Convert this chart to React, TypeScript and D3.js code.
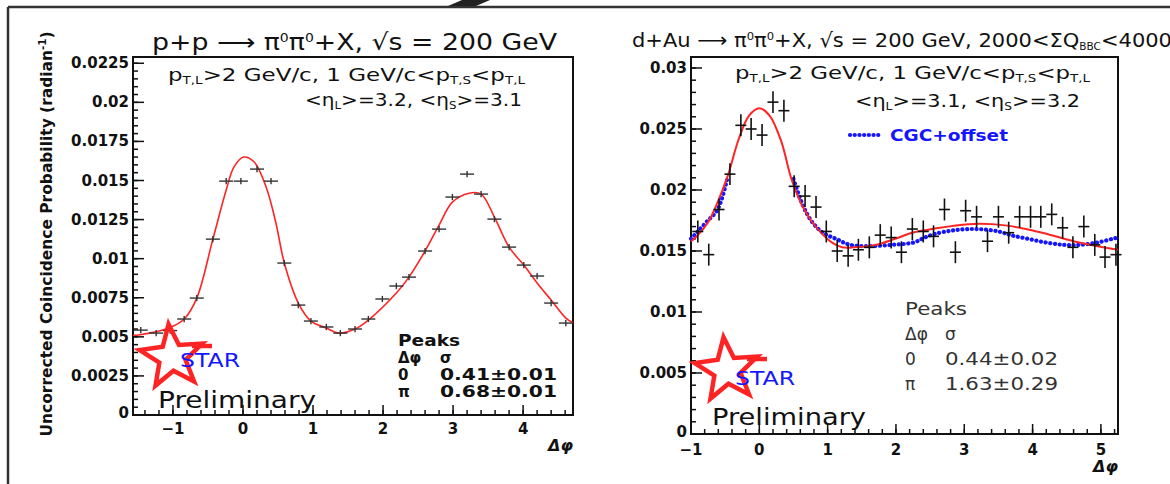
import React from "react";
import * as d3 from "d3";

// ---------- DATA ----------
// Left panel: p+p
const ppPhi = [-1.46, -1.24, -1.04, -0.84, -0.66, -0.43, -0.24, -0.03, 0.2, 0.4, 0.59, 0.79, 0.97, 1.19, 1.39, 1.6, 1.79, 1.99, 2.19, 2.37, 2.6, 2.8, 2.99, 3.2, 3.4, 3.59, 3.8, 4.01, 4.2, 4.4, 4.61];
const ppVal = [0.00543, 0.00524, 0.0054, 0.00614, 0.00748, 0.01125, 0.01496, 0.01496, 0.01573, 0.01496, 0.00972, 0.00703, 0.00601, 0.00563, 0.00524, 0.0055, 0.00614, 0.00742, 0.00825, 0.00882, 0.01049, 0.01189, 0.01394, 0.01541, 0.01413, 0.01253, 0.01074, 0.00959, 0.00889, 0.00716, 0.00588];
const ppErr = 0.0002;
const ppFitPhi = [-1.571, -1.49, -1.06, -0.84, -0.66, -0.43, -0.24, -0.13, 0.01, 0.16, 0.33, 0.47, 0.59, 0.79, 0.97, 1.19, 1.37, 1.6, 1.79, 2.19, 2.37, 2.6, 2.8, 2.99, 3.23, 3.4, 3.59, 3.8, 4.01, 4.2, 4.4, 4.61, 4.712];
const ppFitVal = [0.0051, 0.00512, 0.00556, 0.00614, 0.00748, 0.01125, 0.01439, 0.01586, 0.0165, 0.01618, 0.01458, 0.01228, 0.00972, 0.00716, 0.00601, 0.00556, 0.00524, 0.0055, 0.00607, 0.0078, 0.00882, 0.01049, 0.01215, 0.01362, 0.01419, 0.01413, 0.01266, 0.01074, 0.00959, 0.00844, 0.00735, 0.0062, 0.0059];

// Right panel: d+Au
const daPhi = [-0.9, -0.74, -0.59, -0.43, -0.27, -0.12, 0.04, 0.2, 0.36, 0.51, 0.67, 0.83, 0.98, 1.14, 1.3, 1.45, 1.61, 1.77, 1.93, 2.08, 2.24, 2.4, 2.55, 2.71, 2.87, 3.02, 3.18, 3.34, 3.5, 3.65, 3.81, 3.97, 4.12, 4.28, 4.44, 4.59, 4.75, 4.91, 5.06, 5.22];
const daVal = [0.0166, 0.0147, 0.0184, 0.0213, 0.0253, 0.025, 0.0245, 0.0272, 0.0265, 0.0203, 0.0195, 0.0186, 0.0166, 0.015, 0.0146, 0.0151, 0.0153, 0.0163, 0.0161, 0.0149, 0.0168, 0.0166, 0.0162, 0.0184, 0.0149, 0.0183, 0.0178, 0.0158, 0.0178, 0.0165, 0.0178, 0.0178, 0.0178, 0.018, 0.0169, 0.0153, 0.017, 0.0155, 0.0145, 0.0147];
const daErr = 0.0009;
const daFitPhi = [-1.0, -0.93, -0.75, -0.61, -0.46, -0.3, -0.15, 0.0, 0.15, 0.32, 0.47, 0.62, 0.77, 0.92, 1.06, 1.21, 1.4, 1.7, 1.99, 2.24, 2.53, 3.06, 3.6, 4.14, 4.68, 5.25];
const daFitVal = [0.0158, 0.01612, 0.01736, 0.019, 0.0212, 0.0242, 0.0261, 0.0267, 0.0261, 0.024, 0.0209, 0.0188, 0.0174, 0.0164, 0.0157, 0.0153, 0.0153, 0.0155, 0.016, 0.0165, 0.0168, 0.0172, 0.0171, 0.0165, 0.0157, 0.0151];
const cgcPhiA = [-1.0, -0.9, -0.77, -0.61, -0.47];
const cgcValA = [0.016, 0.0166, 0.0174, 0.0184, 0.0209];
const cgcPhiB = [0.5, 0.64, 0.77, 0.93, 1.12, 1.33, 1.61, 1.93, 2.26, 2.42, 2.57, 2.85, 3.18, 3.5, 3.68, 3.93, 4.19, 4.46, 4.68, 4.95, 5.17, 5.25];
const cgcValB = [0.0209, 0.0187, 0.0174, 0.0165, 0.016, 0.0155, 0.0154, 0.0155, 0.0157, 0.0161, 0.0164, 0.0167, 0.0168, 0.0166, 0.0163, 0.016, 0.0157, 0.0155, 0.0155, 0.0157, 0.016, 0.0161];

const leftYTicks = [0, 0.0025, 0.005, 0.0075, 0.01, 0.0125, 0.015, 0.0175, 0.02, 0.0225];
const leftYLabels = ["0", "0.0025", "0.005", "0.0075", "0.01", "0.0125", "0.015", "0.0175", "0.02", "0.0225"];
const leftXTicks = [-1, 0, 1, 2, 3, 4];
const rightYTicks = [0, 0.005, 0.01, 0.015, 0.02, 0.025, 0.03];
const rightYLabels = ["0", "0.005", "0.01", "0.015", "0.02", "0.025", "0.03"];
const rightXTicks = [-1, 0, 1, 2, 3, 4, 5];

const FONT = "'DejaVu Sans', 'Liberation Sans', sans-serif";
const RED = "#ff2424";
const BLUE = "#1515ff";

function starPoints(cx: number, cy: number, R: number, rot: number) {
  const pts: string[] = [];
  for (let i = 0; i < 10; i++) {
    const r = i % 2 === 0 ? R : R * 0.42;
    const a = (-90 + rot + i * 36) * Math.PI / 180;
    pts.push(`${cx + r * Math.cos(a)},${cy + r * Math.sin(a)}`);
  }
  return pts.join(" ");
}

function StarLogo({ cx, cy, tx, ty }: { cx: number; cy: number; tx: number; ty: number }) {
  return (
    <g>
      <polygon points={starPoints(cx, cy, 33, -6)} fill="none" stroke={RED} strokeWidth={4.5} strokeLinejoin="miter" />
      <line x1={cx + 20} y1={cy - 11} x2={cx + 40} y2={cy - 11} stroke={RED} strokeWidth={4.5} />
      <text x={tx} y={ty} fill={BLUE} fontFamily={FONT} fontSize={19} textLength={60} lengthAdjust="spacingAndGlyphs">STAR</text>
    </g>
  );
}

type AxisProps = {
  x: d3.ScaleLinear<number, number>;
  y: d3.ScaleLinear<number, number>;
  yTicks: number[];
  yLabels: string[];
  yMinor: number;
  xTicks: number[];
  xMinor: number;
  xLabelY: number;
};

function Frame({ x, y, yTicks, yLabels, yMinor, xTicks, xMinor, xLabelY }: AxisProps) {
  const [x0, x1] = x.range();
  const [y0, y1] = y.range();
  const [dx0, dx1] = x.domain();
  const [, dy1] = y.domain();
  const minorX: number[] = [];
  for (let v = Math.ceil(dx0 / xMinor) * xMinor; v <= dx1 + 1e-9; v += xMinor) minorX.push(v);
  const minorY: number[] = [];
  for (let v = 0; v <= dy1 + 1e-12; v += yMinor) minorY.push(v);
  return (
    <g>
      <rect x={x0} y={y1} width={x1 - x0} height={y0 - y1} fill="none" stroke="#111" strokeWidth={2} />
      {minorX.map((v, i) => (
        <line key={"mx" + i} x1={x(v)} x2={x(v)} y1={y0} y2={y0 - 5} stroke="#111" strokeWidth={1.5} />
      ))}
      {xTicks.map((v) => (
        <g key={"x" + v}>
          <line x1={x(v)} x2={x(v)} y1={y0} y2={y0 - 10} stroke="#111" strokeWidth={1.5} />
          <text x={x(v)} y={xLabelY} textAnchor="middle" fontFamily={FONT} fontWeight="bold" fontSize={15} fill="#111">
            {v < 0 ? "\u2212" + Math.abs(v) : String(v)}
          </text>
        </g>
      ))}
      {minorY.map((v, i) => (
        <line key={"my" + i} x1={x0} x2={x0 + 5} y1={y(v)} y2={y(v)} stroke="#111" strokeWidth={1.5} />
      ))}
      {yTicks.map((v, i) => (
        <g key={"y" + i}>
          <line x1={x0} x2={x0 + 11} y1={y(v)} y2={y(v)} stroke="#111" strokeWidth={1.5} />
          <text x={x0 - 4} y={y(v) + (i === 0 ? 3 : 5)} textAnchor="end" fontFamily={FONT} fontWeight="bold" fontSize={15} fill="#111">
            {yLabels[i]}
          </text>
        </g>
      ))}
    </g>
  );
}

function Crosses({ x, y, phi, val, err, hw, color, sw }: any) {
  return (
    <g>
      {phi.map((p: number, i: number) => (
        <g key={i} stroke={color} strokeWidth={sw}>
          <line x1={x(p) - hw} x2={x(p) + hw} y1={y(val[i])} y2={y(val[i])} />
          <line x1={x(p)} x2={x(p)} y1={y(val[i] - err)} y2={y(val[i] + err)} />
        </g>
      ))}
    </g>
  );
}

const LA = "spacingAndGlyphs";

export default function App() {
  const xL = d3.scaleLinear().domain([-Math.PI / 2, 1.5 * Math.PI]).range([133, 573]);
  const yL = d3.scaleLinear().domain([0, 0.0229]).range([415, 57]);
  const xR = d3.scaleLinear().domain([-1, 5.25]).range([691, 1118]);
  const yR = d3.scaleLinear().domain([0, 0.0309]).range([434, 57]);

  const lineL = d3.line<number>().x((d, i) => xL(ppFitPhi[i])).y((d) => yL(d)).curve(d3.curveCatmullRom);
  const lineR = d3.line<number>().x((d, i) => xR(daFitPhi[i])).y((d) => yR(d)).curve(d3.curveCatmullRom);
  const cgcA = d3.line<number>().x((d, i) => xR(cgcPhiA[i])).y((d) => yR(d)).curve(d3.curveCatmullRom);
  const cgcB = d3.line<number>().x((d, i) => xR(cgcPhiB[i])).y((d) => yR(d)).curve(d3.curveCatmullRom);

  return (
    <svg width={1170} height={484} style={{ position: "absolute", left: 0, top: 0, background: "#fff" }}>
      <rect x={0} y={0} width={1170} height={484} fill="#fff" />
      {/* outer border */}
      <line x1={8} y1={7} x2={1170} y2={7} stroke="#333" strokeWidth={2.5} />
      <line x1={8} y1={7} x2={8} y2={484} stroke="#333" strokeWidth={2.5} />
      <polygon points="448,6 462,0 490,0 476,6" fill="#222" />

      {/* ---------- LEFT PANEL ---------- */}
      <text x={152} y={50} fontFamily={FONT} fontSize={23} fill="#111" textLength={405} lengthAdjust={LA}>
        p+p {"\u27F6"} {"\u03C0"}<tspan dy={-8} fontSize={12}>0</tspan><tspan dy={8}>{"\u03C0"}</tspan><tspan dy={-8} fontSize={12}>0</tspan><tspan dy={8}>+X, {"\u221A"}s = 200 GeV</tspan>
      </text>
      <Frame x={xL} y={yL} yTicks={leftYTicks} yLabels={leftYLabels} yMinor={0.0005} xTicks={leftXTicks} xMinor={0.2} xLabelY={434} />
      <text x={168} y={81} fontFamily={FONT} fontSize={17} fill="#111" textLength={357} lengthAdjust={LA}>
        p<tspan dy={3} fontSize={10}>T,L</tspan><tspan dy={-3}>&gt;2 GeV/c,  1 GeV/c&lt;p</tspan><tspan dy={3} fontSize={10}>T,S</tspan><tspan dy={-3}>&lt;p</tspan><tspan dy={3} fontSize={10}>T,L</tspan>
      </text>
      <text x={305} y={106} fontFamily={FONT} fontSize={17} fill="#111" textLength={217} lengthAdjust={LA}>
        &lt;{"\u03B7"}<tspan dy={3} fontSize={10}>L</tspan><tspan dy={-3}>&gt;=3.2, &lt;{"\u03B7"}</tspan><tspan dy={3} fontSize={10}>S</tspan><tspan dy={-3}>&gt;=3.1</tspan>
      </text>
      <path d={lineL(ppFitVal) || ""} fill="none" stroke={RED} strokeWidth={1.6} />
      <Crosses x={xL} y={yL} phi={ppPhi} val={ppVal} err={ppErr} hw={7} color="#333" sw={1.4} />
      <text transform="translate(52,234) rotate(-90)" textAnchor="middle" fontFamily={FONT} fontWeight="bold" fontSize={15} fill="#111" textLength={405} lengthAdjust={LA}>
        Uncorrected Coincidence Probability (radian<tspan dy={-6} fontSize={10}>-1</tspan><tspan dy={6}>)</tspan>
      </text>
      <text x={573} y={451} textAnchor="end" fontFamily={FONT} fontWeight="bold" fontStyle="italic" fontSize={16} fill="#111">{"\u0394\u03C6"}</text>
      <StarLogo cx={172} cy={357} tx={180} ty={367} />
      <text x={158} y={408} fontFamily={FONT} fontSize={23} fill="#111" textLength={158} lengthAdjust={LA}>Preliminary</text>
      <g fontFamily={FONT} fontSize={15} fill="#111" fontWeight="bold">
        <text x={398} y={346} fontSize={16} textLength={62} lengthAdjust={LA}>Peaks</text>
        <text x={398} y={363}>{"\u0394\u03C6"}</text>
        <text x={440} y={363}>{"\u03C3"}</text>
        <text x={398} y={380}>0</text>
        <text x={440} y={380} textLength={117} lengthAdjust={LA}>0.41{"\u00B1"}0.01</text>
        <text x={398} y={397}>{"\u03C0"}</text>
        <text x={440} y={397} textLength={117} lengthAdjust={LA}>0.68{"\u00B1"}0.01</text>
      </g>

      {/* ---------- RIGHT PANEL ---------- */}
      <text x={632} y={47} fontFamily={FONT} fontSize={20} fill="#111" textLength={540} lengthAdjust={LA}>
        d+Au {"\u27F6"} {"\u03C0"}<tspan dy={-7} fontSize={11}>0</tspan><tspan dy={7}>{"\u03C0"}</tspan><tspan dy={-7} fontSize={11}>0</tspan><tspan dy={7}>+X, {"\u221A"}s = 200 GeV, 2000&lt;{"\u03A3"}Q</tspan><tspan dy={3} fontSize={10}>BBC</tspan><tspan dy={-3}>&lt;4000</tspan>
      </text>
      <Frame x={xR} y={yR} yTicks={rightYTicks} yLabels={rightYLabels} yMinor={0.001} xTicks={rightXTicks} xMinor={0.2} xLabelY={455} />
      <text x={735} y={79} fontFamily={FONT} fontSize={17} fill="#111" textLength={355} lengthAdjust={LA}>
        p<tspan dy={3} fontSize={10}>T,L</tspan><tspan dy={-3}>&gt;2 GeV/c,  1 GeV/c&lt;p</tspan><tspan dy={3} fontSize={10}>T,S</tspan><tspan dy={-3}>&lt;p</tspan><tspan dy={3} fontSize={10}>T,L</tspan>
      </text>
      <text x={855} y={107} fontFamily={FONT} fontSize={17} fill="#111" textLength={225} lengthAdjust={LA}>
        &lt;{"\u03B7"}<tspan dy={3} fontSize={10}>L</tspan><tspan dy={-3}>&gt;=3.1, &lt;{"\u03B7"}</tspan><tspan dy={3} fontSize={10}>S</tspan><tspan dy={-3}>&gt;=3.2</tspan>
      </text>
      <path d={cgcA(cgcValA) || ""} fill="none" stroke={BLUE} strokeWidth={4.2} strokeDasharray="0.1 4.6" strokeLinecap="round" />
      <path d={cgcB(cgcValB) || ""} fill="none" stroke={BLUE} strokeWidth={4.2} strokeDasharray="0.1 4.6" strokeLinecap="round" />
      <path d={lineR(daFitVal) || ""} fill="none" stroke={RED} strokeWidth={2} />
      <Crosses x={xR} y={yR} phi={daPhi} val={daVal} err={daErr} hw={5.5} color="#111" sw={1.6} />
      <line x1={850} x2={882} y1={135} y2={135} stroke={BLUE} strokeWidth={4.2} strokeDasharray="0.1 4.6" strokeLinecap="round" />
      <text x={890} y={141} fontFamily={FONT} fontWeight="bold" fontSize={16} fill={BLUE} textLength={118} lengthAdjust={LA}>CGC+offset</text>
      <text x={1118} y={472} textAnchor="end" fontFamily={FONT} fontWeight="bold" fontStyle="italic" fontSize={16} fill="#111">{"\u0394\u03C6"}</text>
      <StarLogo cx={727} cy={370} tx={735} ty={385} />
      <text x={712} y={425} fontFamily={FONT} fontSize={23} fill="#111" textLength={154} lengthAdjust={LA}>Preliminary</text>
      <g fontFamily={FONT} fontSize={17} fill="#333">
        <text x={905} y={315} textLength={62} lengthAdjust={LA}>Peaks</text>
        <text x={905} y={340}>{"\u0394\u03C6"}</text>
        <text x={945} y={340}>{"\u03C3"}</text>
        <text x={905} y={365}>0</text>
        <text x={945} y={365} textLength={113} lengthAdjust={LA}>0.44{"\u00B1"}0.02</text>
        <text x={905} y={390}>{"\u03C0"}</text>
        <text x={945} y={390} textLength={113} lengthAdjust={LA}>1.63{"\u00B1"}0.29</text>
      </g>
    </svg>
  );
}
